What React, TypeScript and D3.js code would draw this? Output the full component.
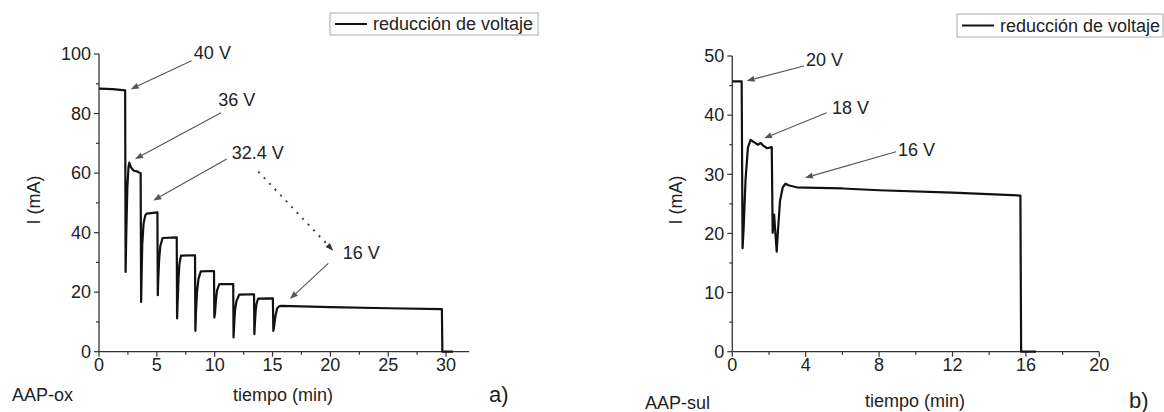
import React from "react";
import * as d3 from "d3";

// ---------- DATA ----------
// Panel a) AAP-ox : time (min) and current (mA)
const oxTime = [
  0, 1.2, 2.26, 2.3, 2.36, 2.45, 2.55, 2.62, 2.75, 3.0, 3.26, 3.45, 3.6,
  3.64, 3.68, 3.74, 3.85, 4.0, 4.12, 5.05,
  5.08, 5.12, 5.2, 5.3, 5.5, 6.72,
  6.75, 6.8, 6.88, 6.95, 7.09, 8.3,
  8.33, 8.38, 8.47, 8.6, 8.8, 9.94,
  9.97, 10.03, 10.1, 10.2, 10.4, 11.6,
  11.63, 11.68, 11.76, 11.88, 12.13, 13.4,
  13.43, 13.48, 13.55, 13.62, 13.75, 15.03,
  15.07, 15.14, 15.25, 15.4, 15.6, 15.8, 20, 25, 29.64,
  29.68, 30.6,
];
const oxCurrent = [
  88.4, 88.2, 87.8, 26.8, 40, 55, 62, 63.5, 62, 60.8, 60.6, 60.2, 60,
  16.7, 25, 36, 43, 45.8, 46.4, 46.8,
  19, 24, 31, 35.5, 38.2, 38.4,
  11.2, 17, 25, 29.5, 32.3, 32.4,
  7, 13, 20, 24.5, 27, 27.1,
  11.5, 13, 17, 20.5, 22.7, 22.7,
  4.8, 9, 14, 17, 19.2, 19.3,
  5.9, 10, 14, 16.2, 17.8, 17.9,
  7, 8.5, 12, 14.6, 15.3, 15.4, 15.0, 14.6, 14.3,
  0, 0,
];

// Panel b) AAP-sul
const sulTime = [
  0, 0.51, 0.56, 0.62, 0.72, 0.85, 1.0, 1.2, 1.4, 1.55, 1.7, 1.9, 2.15,
  2.2, 2.28, 2.35, 2.42, 2.5, 2.6, 2.75, 2.9, 3.1, 3.5, 4, 6, 8, 12, 15.7,
  15.74, 16.55,
];
const sulCurrent = [
  45.7, 45.7, 17.5, 21, 29, 34.5, 35.8, 35.4, 35.0, 35.3, 34.8, 34.4, 34.6,
  20.1, 23.2, 20, 16.9, 21, 25.5, 27.8, 28.4, 28.1, 27.8, 27.75, 27.6, 27.3, 26.9, 26.4,
  0, 0,
];

// Axis ticks
const oxXMajor = [0, 5, 10, 15, 20, 25, 30];
const oxXMinor = [2.5, 7.5, 12.5, 17.5, 22.5, 27.5];
const oxYMajor = [0, 20, 40, 60, 80, 100];
const oxYMinor = [10, 30, 50, 70, 90];
const sulXMajor = [0, 4, 8, 12, 16, 20];
const sulXMinor = [2, 6, 10, 14, 18];
const sulYMajor = [0, 10, 20, 30, 40, 50];
const sulYMinor = [5, 15, 25, 35, 45];

// Annotations: label, text position (t, I), arrow from (t, I) to (t, I)
const oxLabels = ["40 V", "36 V", "32.4 V", "16 V"];
const oxLabelPos = [[8.2, 100.5], [10.3, 84.8], [11.47, 66.9], [21.06, 33.1]];
const oxArrows = [
  [8.0, 97.7, 2.74, 88.2],
  [10.55, 80.3, 3.11, 64.7],
  [11.04, 64.7, 4.69, 50.8],
  [19.82, 29.7, 16.5, 17.7],
];
const oxDotted = [13.77, 60.5, 20.25, 33.9];

const sulLabels = ["20 V", "18 V", "16 V"];
const sulLabelPos = [[4.02, 49.3], [5.43, 41.3], [9.03, 34.2]];
const sulArrows = [
  [3.91, 48.3, 0.78, 45.8],
  [5.14, 40.4, 1.73, 36.1],
  [8.92, 33.8, 3.96, 29.4],
];

const legendText = "reducción de voltaje";

const FONT = "'Liberation Sans', Arial, Helvetica, sans-serif";
const AX = "#333";
const ARROW = "#555";
const FS = 18;

function Arrow({ x1, y1, x2, y2, dotted }) {
  const ang = Math.atan2(y2 - y1, x2 - x1);
  const L = 8, W = 3;
  const bx = x2 - L * Math.cos(ang), by = y2 - L * Math.sin(ang);
  const px = -Math.sin(ang) * W, py = Math.cos(ang) * W;
  return (
    <g>
      <line
        x1={x1} y1={y1} x2={bx} y2={by}
        stroke={dotted ? "#444" : ARROW}
        strokeWidth={dotted ? 2 : 1.1}
        strokeDasharray={dotted ? "2 6" : undefined}
      />
      <path
        d={`M${x2},${y2}L${bx + px},${by + py}L${bx - px},${by - py}Z`}
        fill={dotted ? "#333" : ARROW}
      />
    </g>
  );
}

function Panel({
  x0, x1, y0, y1, xDomain, yDomain, xMajor, xMinor, yMajor, yMinor,
  time, current, labels, labelPos, arrows, dotted,
}) {
  const x = d3.scaleLinear().domain(xDomain).range([x0, x1]);
  const y = d3.scaleLinear().domain(yDomain).range([y0, y1]);
  const line = d3.line().x((d) => x(d[0])).y((d) => y(d[1]));
  const pts = time.map((t, i) => [t, current[i]]);
  return (
    <g>
      {/* axes */}
      <line x1={x0} x2={x1} y1={y0} y2={y0} stroke={AX} strokeWidth={1.3} />
      <line x1={x0} x2={x0} y1={y0} y2={y1} stroke={AX} strokeWidth={1.3} />
      {xMajor.map((v) => (
        <g key={"xm" + v}>
          <line x1={x(v)} x2={x(v)} y1={y0} y2={y0 + 5} stroke={AX} strokeWidth={1.2} />
          <text x={x(v)} y={y0 + 19} textAnchor="middle" fontSize={FS} fill="#222" fontFamily={FONT}>
            {v}
          </text>
        </g>
      ))}
      {xMinor.map((v) => (
        <line key={"xn" + v} x1={x(v)} x2={x(v)} y1={y0} y2={y0 + 3} stroke={AX} strokeWidth={1.2} />
      ))}
      {yMajor.map((v) => (
        <g key={"ym" + v}>
          <line x1={x0 - 5} x2={x0} y1={y(v)} y2={y(v)} stroke={AX} strokeWidth={1.2} />
          <text x={x0 - 8} y={y(v) + 6.3} textAnchor="end" fontSize={FS} fill="#222" fontFamily={FONT}>
            {v}
          </text>
        </g>
      ))}
      {yMinor.map((v) => (
        <line key={"yn" + v} x1={x0 - 3} x2={x0} y1={y(v)} y2={y(v)} stroke={AX} strokeWidth={1.2} />
      ))}
      {/* curve */}
      <path d={line(pts)} fill="none" stroke="#111" strokeWidth={2.2} strokeLinejoin="round" />
      {/* annotations */}
      {labels.map((l, i) => (
        <text key={l + i} x={x(labelPos[i][0])} y={y(labelPos[i][1]) + 6.3} fontSize={FS} fill="#222" fontFamily={FONT}>
          {l}
        </text>
      ))}
      {arrows.map((a, i) => (
        <Arrow key={"a" + i} x1={x(a[0])} y1={y(a[1])} x2={x(a[2])} y2={y(a[3])} />
      ))}
      {dotted && (
        <Arrow x1={x(dotted[0])} y1={y(dotted[1])} x2={x(dotted[2])} y2={y(dotted[3])} dotted />
      )}
    </g>
  );
}

function Legend({ bx, by, bw, bh }) {
  return (
    <g>
      <rect x={bx} y={by} width={bw} height={bh} fill="#fff" stroke="#aaa" strokeWidth={1} />
      <line x1={bx + 5} x2={bx + 37} y1={by + bh / 2} y2={by + bh / 2} stroke="#111" strokeWidth={2} />
      <text x={bx + 43} y={by + bh / 2 + 6.3} fontSize={FS} fill="#222" fontFamily={FONT}>
        {legendText}
      </text>
    </g>
  );
}

export default function App() {
  return (
    <svg
      width={1164}
      height={412}
      style={{ position: "absolute", left: 0, top: 0, background: "#fff" }}
    >
      <rect width={1164} height={412} fill="#fff" />
      <Panel
        x0={99} x1={469.2} y0={351.7} y1={54}
        xDomain={[0, 32]} yDomain={[0, 100]}
        xMajor={oxXMajor} xMinor={oxXMinor} yMajor={oxYMajor} yMinor={oxYMinor}
        time={oxTime} current={oxCurrent}
        labels={oxLabels} labelPos={oxLabelPos} arrows={oxArrows} dotted={oxDotted}
      />
      <Panel
        x0={732.3} x1={1099.3} y0={351.7} y1={56}
        xDomain={[0, 20]} yDomain={[0, 50]}
        xMajor={sulXMajor} xMinor={sulXMinor} yMajor={sulYMajor} yMinor={sulYMinor}
        time={sulTime} current={sulCurrent}
        labels={sulLabels} labelPos={sulLabelPos} arrows={sulArrows} dotted={null}
      />
      <Legend bx={330} by={13} bw={208} bh={22} />
      <Legend bx={957} by={14} bw={206} bh={23} />

      {/* axis titles */}
      <text transform="translate(40,200) rotate(-90)" textAnchor="middle" fontSize={FS} fill="#222" fontFamily={FONT}>
        I (mA)
      </text>
      <text x={283} y={401} textAnchor="middle" fontSize={FS} fill="#222" fontFamily={FONT}>
        tiempo (min)
      </text>
      <text x={12} y={401} fontSize={FS} fill="#222" fontFamily={FONT}>
        AAP-ox
      </text>
      <text x={489} y={402} fontSize={22} fill="#222" fontFamily={FONT}>
        a)
      </text>

      <text transform="translate(682,200) rotate(-90)" textAnchor="middle" fontSize={FS} fill="#222" fontFamily={FONT}>
        I (mA)
      </text>
      <text x={915} y={407} textAnchor="middle" fontSize={FS} fill="#222" fontFamily={FONT}>
        tiempo (min)
      </text>
      <text x={645} y={409} fontSize={FS} fill="#222" fontFamily={FONT}>
        AAP-sul
      </text>
      <text x={1129} y={408} fontSize={22} fill="#222" fontFamily={FONT}>
        b)
      </text>
    </svg>
  );
}
